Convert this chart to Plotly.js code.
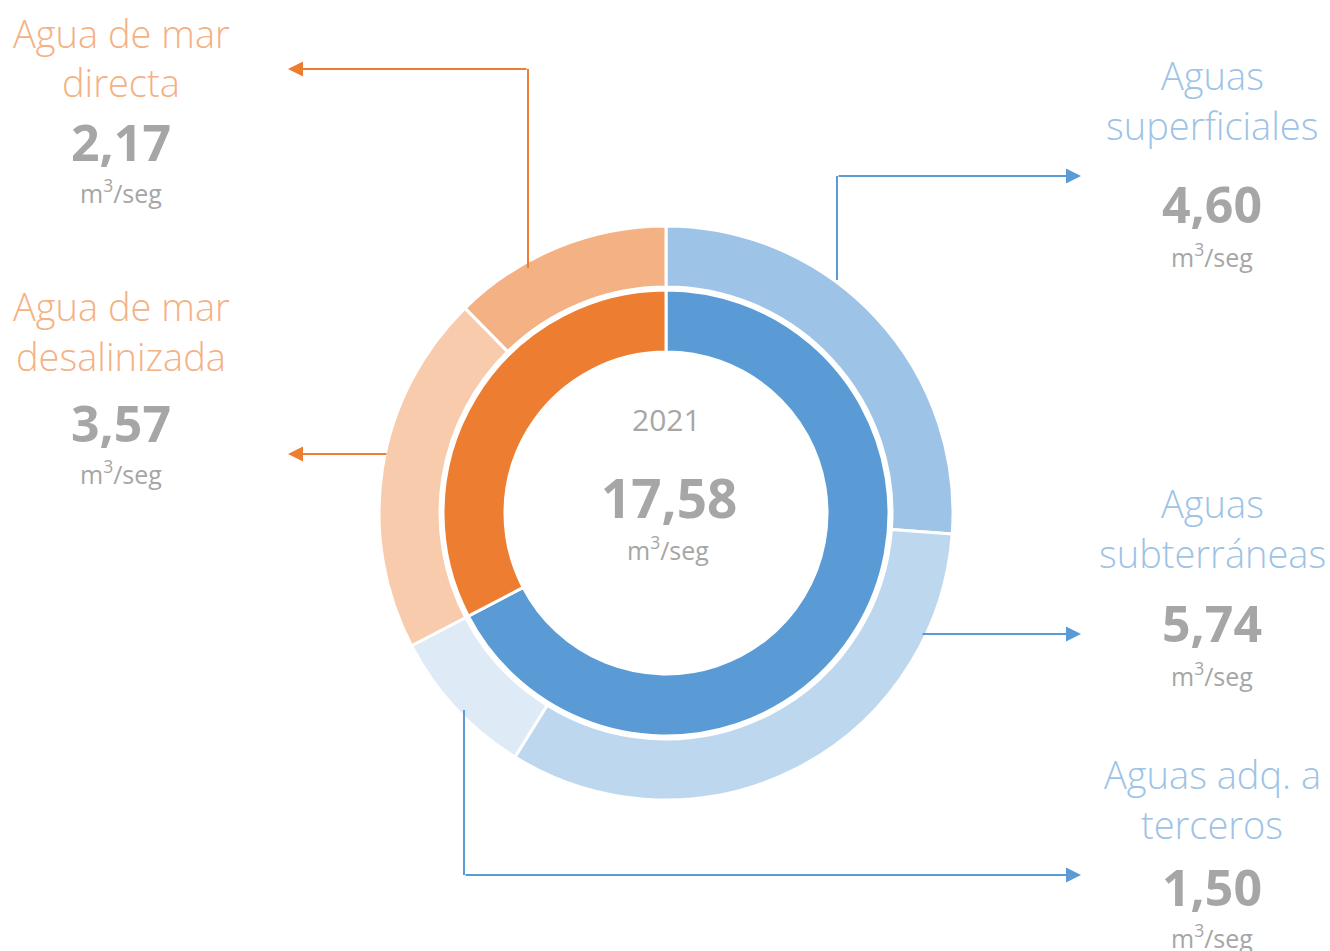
<!DOCTYPE html>
<html>
<head>
<meta charset="utf-8">
<script src="https://cdn.plot.ly/plotly-3.0.1.min.js"></script>
<style>html,body{margin:0;padding:0;background:#fff;}#chart{width:1330px;height:951px;}</style>
</head>
<body>
<div id="chart"></div>
<script>
// ---- data ----
const year = "2021";
const unit = "m<sup>3</sup>/seg";
const sourceNames = ["Aguas superficiales", "Aguas subterráneas", "Aguas adq. a terceros", "Agua de mar desalinizada", "Agua de mar directa"];
const sourceValues = [4.60, 5.74, 1.50, 3.57, 2.17];
const sourceGroups = ["dulce", "dulce", "dulce", "mar", "mar"];
const groupNames = ["dulce", "mar"];
const sourceColors = ["#9DC3E6", "#BDD7EE", "#DEEBF7", "#F8CBAD", "#F4B183"];
const groupColors = ["#5B9BD5", "#ED7D31"];
const labelLines = [["Aguas", "superficiales"], ["Aguas", "subterráneas"], ["Aguas adq. a", "terceros"], ["Agua de mar", "desalinizada"], ["Agua de mar", "directa"]];

// ---- helpers ----
const W = 1330, H = 951;
const px = x => x / W;
const py = y => 1 - y / H;
const fmt = v => v.toFixed(2).replace(".", ",");
const FONT = "Open Sans, Noto Sans, sans-serif";
const GRAY = "#A6A6A6";

const groupValues = groupNames.map(g => sourceValues.filter((v, i) => sourceGroups[i] === g).reduce((a, b) => a + b, 0));
const total = sourceValues.reduce((a, b) => a + b, 0);

const cx = 666, cy = 513;
const rOut = 287, rOutIn = 226, rIn = 223, rInIn = 161;

const outer = {
  type: "pie", values: sourceValues, labels: sourceNames, sort: false, direction: "clockwise", rotation: 0,
  hole: rOutIn / rOut, textinfo: "none", hoverinfo: "label+value", showlegend: false,
  marker: {colors: sourceColors, line: {color: "#fff", width: 3}},
  domain: {x: [px(cx - rOut), px(cx + rOut)], y: [py(cy + rOut), py(cy - rOut)]}
};
const inner = {
  type: "pie", values: groupValues, labels: groupNames, sort: false, direction: "clockwise", rotation: 0,
  hole: rInIn / rIn, textinfo: "none", hoverinfo: "value", showlegend: false,
  marker: {colors: groupColors, line: {color: "#fff", width: 3}},
  domain: {x: [px(cx - rIn), px(cx + rIn)], y: [py(cy + rIn), py(cy - rIn)]}
};

// label blocks: [centerX, line1Y, line2Y, valueY, unitY] (visual centers)
const blocks = [
  [1212, 75, 125, 204, 255],
  [1212, 503, 553, 623, 674],
  [1212, 774, 824, 887, 936],
  [121, 306, 356, 423, 472],
  [121, 33, 82, 142, 192]
];
const annotations = [];
const textColor = i => sourceGroups[i] === "mar" ? "#F4B183" : "#9DC3E6";
blocks.forEach((b, i) => {
  const common = {xref: "paper", yref: "paper", showarrow: false, xanchor: "center", yanchor: "middle"};
  annotations.push(Object.assign({x: px(b[0]), y: py(b[1]), text: labelLines[i][0], font: {family: FONT, size: 38, color: textColor(i), weight: 300}}, common));
  annotations.push(Object.assign({x: px(b[0]), y: py(b[2]), text: labelLines[i][1], font: {family: FONT, size: 38, color: textColor(i), weight: 300}}, common));
  annotations.push(Object.assign({x: px(b[0]), y: py(b[3]), text: "<b>" + fmt(sourceValues[i]) + "</b>", font: {family: FONT, size: 50, color: GRAY}}, common));
  annotations.push(Object.assign({x: px(b[0]), y: py(b[4]), text: unit, font: {family: FONT, size: 25, color: GRAY}}, common));
});
// center
annotations.push({xref: "paper", yref: "paper", showarrow: false, x: px(666), y: py(420), text: year, font: {family: FONT, size: 30, color: GRAY}});
annotations.push({xref: "paper", yref: "paper", showarrow: false, x: px(669), y: py(497), text: "<b>" + fmt(total) + "</b>", font: {family: FONT, size: 53, color: GRAY}});
annotations.push({xref: "paper", yref: "paper", showarrow: false, x: px(668), y: py(548), text: unit, font: {family: FONT, size: 25, color: GRAY}});

// connector arrows (horizontal segments with heads)
const arrows = [
  // [tipX, tipY, tailX, color]
  [1081, 176, 837, "#5B9BD5"],
  [1081, 634, 921, "#5B9BD5"],
  [1081, 875, 464, "#5B9BD5"],
  [288, 454, 388, "#ED7D31"],
  [288, 69, 528, "#ED7D31"]
];
arrows.forEach(a => {
  annotations.push({xref: "paper", yref: "paper", x: px(a[0]), y: py(a[1]), ax: a[2] - a[0], ay: 0, text: "", showarrow: true,
    arrowhead: 2, arrowsize: 1.5, arrowwidth: 2, arrowcolor: a[3]});
});
const shapes = [
  {type: "line", xref: "paper", yref: "paper", x0: px(837), x1: px(837), y0: py(280), y1: py(176), line: {color: "#5B9BD5", width: 2}},
  {type: "line", xref: "paper", yref: "paper", x0: px(464), x1: px(464), y0: py(710), y1: py(875), line: {color: "#5B9BD5", width: 2}},
  {type: "line", xref: "paper", yref: "paper", x0: px(528), x1: px(528), y0: py(268), y1: py(69), line: {color: "#ED7D31", width: 2}}
];

const layout = {
  width: W, height: H, margin: {l: 0, r: 0, t: 0, b: 0},
  paper_bgcolor: "#fff", plot_bgcolor: "#fff",
  annotations: annotations, shapes: shapes, showlegend: false
};
Plotly.newPlot("chart", [outer, inner], layout, {displayModeBar: false, staticPlot: true});
</script>
</body>
</html>
